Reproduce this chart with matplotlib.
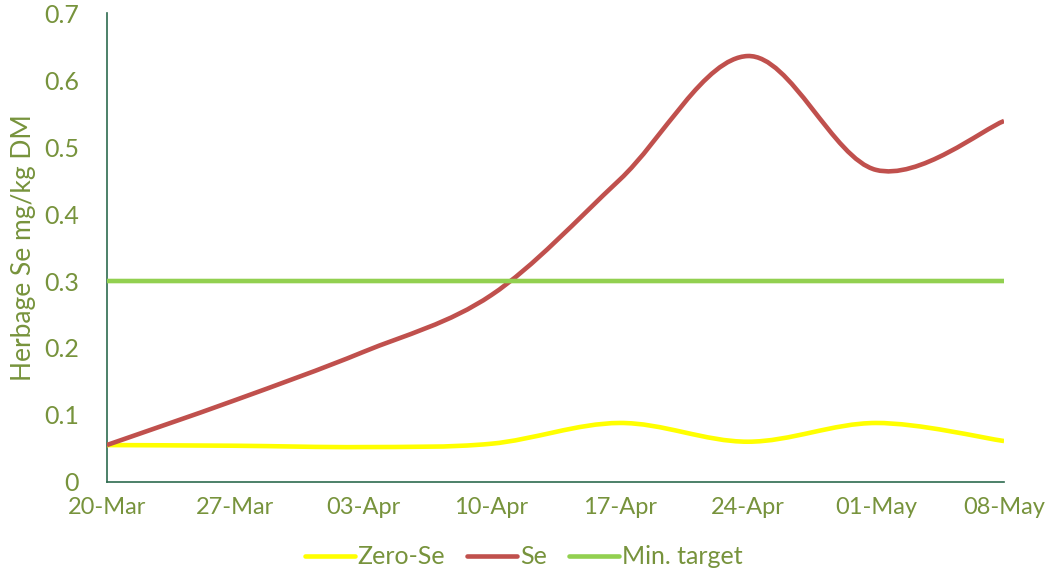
import datetime as dt

import matplotlib
matplotlib.use('Agg')
import matplotlib.dates as mdates
import matplotlib.pyplot as plt
from matplotlib.lines import Line2D
from matplotlib.patches import PathPatch
from matplotlib.path import Path

dates = ['2021-03-20', '2021-03-27', '2021-04-03', '2021-04-10',
         '2021-04-17', '2021-04-24', '2021-05-01', '2021-05-08']
zero_se = [0.055, 0.054, 0.052, 0.057, 0.088, 0.060, 0.088, 0.061]
se = [0.055, 0.122, 0.194, 0.279, 0.451, 0.636, 0.466, 0.539]
min_target = [0.3] * len(dates)

text_color = '#77933C'
axis_color = '#2E6B4F'


def smooth_path(xs, ys):
    # Excel style smoothed line: cubic Bezier with Catmull-Rom control points
    verts = [(xs[0], ys[0])]
    codes = [Path.MOVETO]
    n = len(xs)
    for i in range(n - 1):
        x0, y0 = xs[max(i - 1, 0)], ys[max(i - 1, 0)]
        x1, y1 = xs[i], ys[i]
        x2, y2 = xs[i + 1], ys[i + 1]
        x3, y3 = xs[min(i + 2, n - 1)], ys[min(i + 2, n - 1)]
        c1 = (x1 + (x2 - x0) / 6, y1 + (y2 - y0) / 6)
        c2 = (x2 - (x3 - x1) / 6, y2 - (y3 - y1) / 6)
        verts += [c1, c2, (x2, y2)]
        codes += [Path.CURVE4] * 3
    return Path(verts, codes)


x = [mdates.date2num(dt.date.fromisoformat(d)) for d in dates]

plt.rcParams['font.family'] = ['Lato', 'DejaVu Sans']

fig = plt.figure(figsize=(10.47, 5.73), dpi=100)
ax = fig.add_axes([0.102, 0.159, 0.857, 0.818])

series = [('Zero-Se', zero_se, '#FFFF00'),
          ('Se', se, '#C0504D'),
          ('Min. target', min_target, '#92D050')]
handles = []
for name, vals, color in series:
    patch = PathPatch(smooth_path(x, vals), facecolor='none', edgecolor=color,
                      lw=3.3, capstyle='butt', zorder=3)
    ax.add_patch(patch)
    handles.append(Line2D([], [], color=color, lw=3.3, solid_capstyle='round'))

ax.set_xlim(x[0], x[-1])
ax.set_ylim(0, 0.7)
ax.set_xticks(x)
ax.xaxis.set_major_formatter(mdates.DateFormatter('%d-%b'))
ax.set_yticks([0, 0.1, 0.2, 0.3, 0.4, 0.5, 0.6, 0.7])
ax.set_yticklabels(['0', '0.1', '0.2', '0.3', '0.4', '0.5', '0.6', '0.7'])
ax.tick_params(axis='both', length=0, labelcolor=text_color)
ax.tick_params(axis='x', pad=11, labelsize=17)
ax.tick_params(axis='y', pad=20, labelsize=18)

for side in ['top', 'right']:
    ax.spines[side].set_visible(False)
for side in ['left', 'bottom']:
    ax.spines[side].set_color(axis_color)
    ax.spines[side].set_linewidth(1.2)

ax.set_ylabel('Herbage Se mg/kg DM', color=text_color, fontsize=19, labelpad=6)

fig.legend(handles, [s[0] for s in series], loc='center', bbox_to_anchor=(0.5, 0.028),
           ncol=3, frameon=False, fontsize=18, labelcolor=text_color,
           handlelength=2.0, handletextpad=0.1, columnspacing=0.9)

fig.savefig('out.png', dpi=100)
